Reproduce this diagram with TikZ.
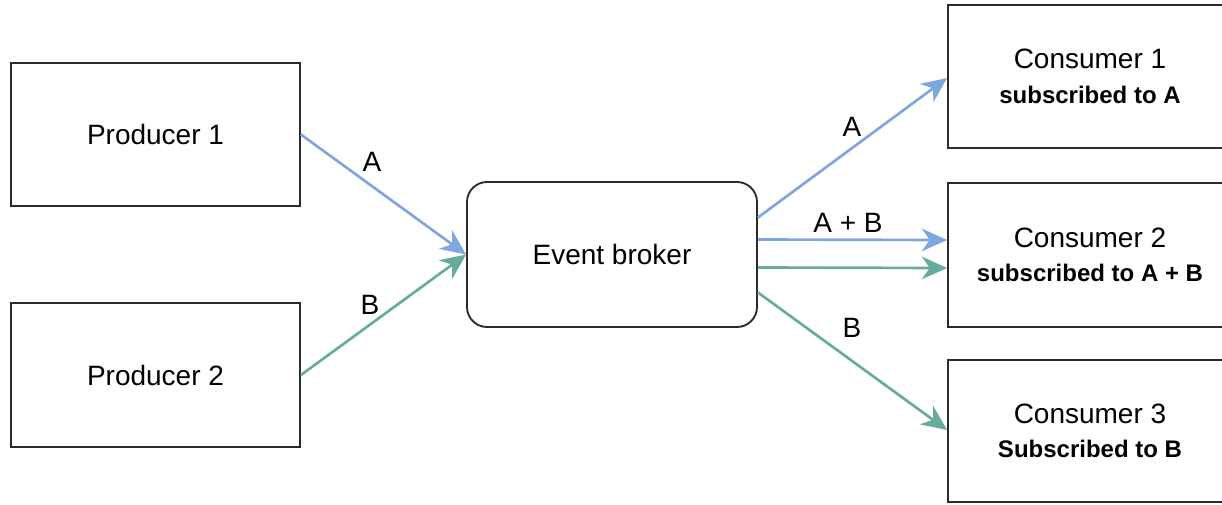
\documentclass[tikz,border=0pt]{standalone}
\usepackage{fontspec}
\setmainfont{Liberation Sans}
\usetikzlibrary{arrows.meta,calc}
\definecolor{edgeblue}{HTML}{7EA6E0}
\definecolor{edgegreen}{HTML}{67AB9F}
\definecolor{boxline}{HTML}{2B2B2B}
\begin{document}
\begin{tikzpicture}[x=0.75pt,y=-0.75pt,
  box/.style={draw=boxline,line width=1.4pt,fill=white,inner sep=0pt,align=center,
    font=\fontsize{21}{25}\selectfont},
  brokerbox/.style={box,rounded corners=15pt},
  flow/.style={line width=2pt,-{Stealth[length=19pt,width=17pt,inset=6pt]}},
  blueflow/.style={flow,draw=edgeblue,color=edgeblue},
  greenflow/.style={flow,draw=edgegreen,color=edgegreen},
  lbl/.style={font=\fontsize{21}{25}\selectfont,inner sep=0pt}]
\useasboundingbox (0,0) rectangle (1222,504);
\fill[white] (0,0) rectangle (1222,504);

\node[box,minimum width=216.75pt,minimum height=107.25pt] (p1) at (155.5,134.5) {Producer 1};
\node[box,minimum width=216.75pt,minimum height=108pt] (p2) at (155.5,375) {Producer 2};
\node[brokerbox,minimum width=217.5pt,minimum height=108.75pt] (broker) at (612,254.5) {Event broker};

\node[box,minimum width=213pt,minimum height=107.25pt] (c1) at (1090,76.5)
  {Consumer 1\\[1pt]{\fontsize{18}{22}\selectfont\bfseries subscribed to A}};
\node[box,minimum width=213pt,minimum height=108pt] (c2) at (1090,255)
  {Consumer 2\\[1pt]{\fontsize{18}{22}\selectfont\bfseries subscribed to A + B}};
\node[box,minimum width=213pt,minimum height=106.5pt] (c3) at (1090,431)
  {Consumer 3\\[1pt]{\fontsize{18}{22}\selectfont\bfseries Subscribed to B}};

\draw[blueflow] (p1.east) -- (broker.west);
\draw[greenflow] (p2.east) -- (broker.west);

\draw[blueflow] ([shift={(0,-37)}]broker.east) -- ([shift={(0,1.5)}]c1.west);
\draw[blueflow] ([shift={(0,-15)}]broker.east) -- ([shift={(0,-15)}]c2.west);
\draw[greenflow] ([shift={(0,13)}]broker.east) -- ([shift={(0,13)}]c2.west);
\draw[greenflow] ([shift={(0,38)}]broker.east) -- ([shift={(0,-1)}]c3.west);

\node[lbl] (la1) at (372,162) {A};
\node[lbl] (lb1) at (370,305) {B};
\node[lbl] (la2) at (852,127) {A};
\node[lbl] (lab) at (848,223) {A + B};
\node[lbl] (lb2) at (852,328) {B};
\end{tikzpicture}
\end{document}
